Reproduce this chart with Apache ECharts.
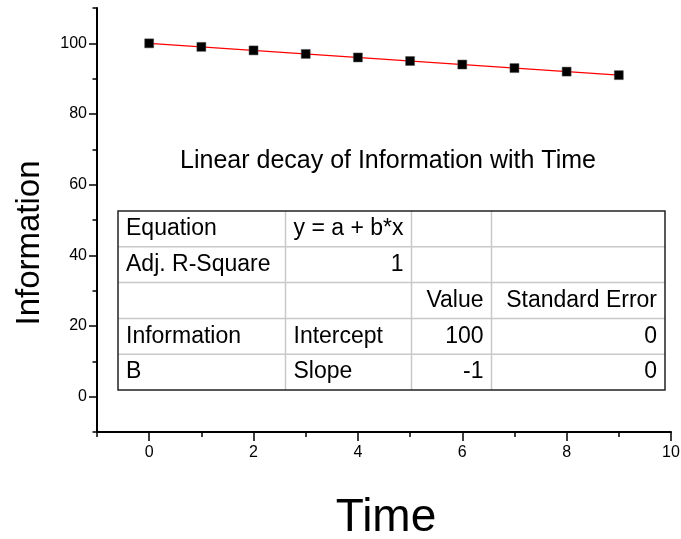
<!DOCTYPE html>
<html>
<head>
<meta charset="utf-8">
<script src="https://cdn.jsdelivr.net/npm/echarts@6/dist/echarts.min.js"></script>
<style>html,body{margin:0;padding:0;background:#fff}#c{width:681px;height:539px}</style>
</head>
<body>
<div id="c"></div>
<script>
// ---- data ----
var timeValues = [0, 1, 2, 3, 4, 5, 6, 7, 8, 9];
var infoValues = [100, 99, 98, 97, 96, 95, 94, 93, 92, 91];
var fitX = [0, 9];
var fitY = [100, 91];
var xMajorTicks = [0, 2, 4, 6, 8, 10];
var xMinorTicks = [-1, 1, 3, 5, 7, 9];
var yMajorTicks = [0, 20, 40, 60, 80, 100];
var yMinorTicks = [-10, 10, 30, 50, 70, 90, 110];
var titleText = 'Linear decay of Information with Time';
var xName = 'Time';
var yName = 'Information';
var tableRow0 = ['Equation', 'y = a + b*x', '', ''];
var tableRow1 = ['Adj. R-Square', '1', '', ''];
var tableRow2 = ['', '', 'Value', 'Standard Error'];
var tableRow3 = ['Information', 'Intercept', '100', '0'];
var tableRow4 = ['B', 'Slope', '-1', '0'];
var tableAlign = [
  ['left', 'left', 'left', 'left'],
  ['left', 'right', 'left', 'left'],
  ['left', 'left', 'right', 'right'],
  ['left', 'left', 'right', 'right'],
  ['left', 'left', 'right', 'right']
];

var FONT = '"Liberation Sans", Arial, sans-serif';
var chart = echarts.init(document.getElementById('c'), null, {renderer: 'canvas'});

// table layout (pixels)
var colX = [118, 285.5, 411.5, 491.5, 665];
var rowY = [211, 246.8, 282.6, 318.4, 354.2, 390];
var rows = [tableRow0, tableRow1, tableRow2, tableRow3, tableRow4];
var tableEls = [];
var i, j;
for (i = 1; i < rowY.length - 1; i++) {
  tableEls.push({type: 'line', shape: {x1: colX[0], y1: rowY[i], x2: colX[4], y2: rowY[i]}, style: {stroke: '#c8c8c8', lineWidth: 1.5}});
}
for (j = 1; j < colX.length - 1; j++) {
  tableEls.push({type: 'line', shape: {x1: colX[j], y1: rowY[0], x2: colX[j], y2: rowY[5]}, style: {stroke: '#c8c8c8', lineWidth: 1.5}});
}
tableEls.push({type: 'rect', shape: {x: colX[0], y: rowY[0], width: colX[4] - colX[0], height: rowY[5] - rowY[0]}, style: {fill: null, stroke: '#222', lineWidth: 1.5}});
for (i = 0; i < rows.length; i++) {
  for (j = 0; j < 4; j++) {
    var t = rows[i][j];
    if (!t) continue;
    var al = tableAlign[i][j];
    tableEls.push({
      type: 'text',
      x: al === 'left' ? colX[j] + 8 : colX[j + 1] - 8,
      y: (rowY[i] + rowY[i + 1]) / 2,
      style: {text: t, fill: '#000', font: '23px ' + FONT, textAlign: al, textVerticalAlign: 'middle'}
    });
  }
}

var axisLineStyle = {color: '#000', width: 2};
var option = {
  backgroundColor: '#fff',
  animation: false,
  grid: {left: 97, right: 10, top: 8, bottom: 107, outerBoundsMode: 'none'},
  xAxis: [{
    type: 'value', min: -1, max: 10,
    axisLine: {show: true, onZero: false, lineStyle: axisLineStyle},
    axisTick: {show: true, inside: false, length: 9, customValues: xMajorTicks, lineStyle: {color: '#000', width: 1.5}},
    axisLabel: {show: true, customValues: xMajorTicks, margin: 13, fontSize: 16, color: '#000', fontFamily: FONT},
    splitLine: {show: false}
  }, {
    type: 'value', min: -1, max: 10, position: 'bottom',
    axisLine: {show: false, onZero: false},
    axisTick: {show: true, inside: false, length: 5, customValues: xMinorTicks, lineStyle: {color: '#000', width: 1.5}},
    axisLabel: {show: false},
    splitLine: {show: false}
  }],
  yAxis: [{
    type: 'value', min: -10, max: 110,
    axisLine: {show: true, onZero: false, lineStyle: axisLineStyle},
    axisTick: {show: true, inside: false, length: 8, customValues: yMajorTicks, lineStyle: {color: '#000', width: 1.5}},
    axisLabel: {show: true, customValues: yMajorTicks, margin: 10, fontSize: 16, color: '#000', fontFamily: FONT},
    splitLine: {show: false}
  }, {
    type: 'value', min: -10, max: 110, position: 'left',
    axisLine: {show: false, onZero: false},
    axisTick: {show: true, inside: false, length: 4.5, customValues: yMinorTicks, lineStyle: {color: '#000', width: 1.5}},
    axisLabel: {show: false},
    splitLine: {show: false}
  }],
  series: [{
    type: 'line',
    data: fitX.map(function (x, k) { return [x, fitY[k]]; }),
    showSymbol: false, symbol: 'none',
    lineStyle: {color: '#ff0000', width: 1.2},
    z: 2
  }, {
    type: 'scatter',
    data: timeValues.map(function (x, k) { return [x, infoValues[k]]; }),
    symbol: 'rect', symbolSize: 9,
    itemStyle: {color: '#000', borderColor: '#555', borderWidth: 0.5, opacity: 1},
    z: 3
  }],
  graphic: [
    {type: 'text', x: 388, y: 161, style: {text: titleText, fill: '#000', font: '25px ' + FONT, textAlign: 'center', textVerticalAlign: 'middle'}},
    {type: 'text', x: 386, y: 518, style: {text: xName, fill: '#000', font: '46px ' + FONT, textAlign: 'center', textVerticalAlign: 'middle'}},
    {type: 'text', x: 30, y: 243, rotation: Math.PI / 2, style: {text: yName, fill: '#000', font: '33px ' + FONT, textAlign: 'center', textVerticalAlign: 'middle'}},
    {type: 'group', children: tableEls}
  ]
};
chart.setOption(option);
</script>
</body>
</html>
